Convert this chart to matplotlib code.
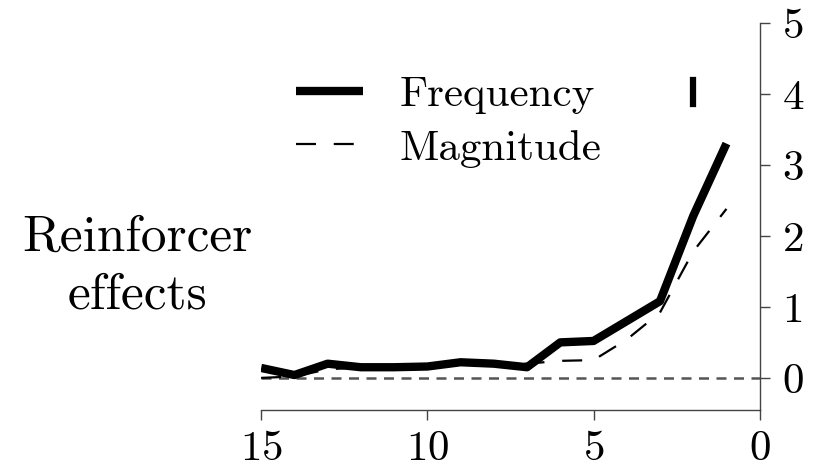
import matplotlib
matplotlib.use("Agg")
import matplotlib.pyplot as plt

plt.rcParams["font.family"] = "cmr10"
plt.rcParams["axes.formatter.use_mathtext"] = True

# data
lags = [15, 14, 13, 12, 11, 10, 9, 8, 7, 6, 5, 4, 3, 2, 1]
frequency = [0.14, 0.04, 0.20, 0.15, 0.15, 0.16, 0.22, 0.20, 0.15, 0.50, 0.52, 0.80, 1.08, 2.28, 3.30]
magnitude = [0.00, 0.02, 0.12, 0.15, 0.15, 0.15, 0.20, 0.20, 0.20, 0.24, 0.25, 0.54, 0.92, 1.78, 2.38]
x_ticks = [15, 10, 5, 0]
y_ticks = [0, 1, 2, 3, 4, 5]
marker_x = 2
marker_y = [3.86, 4.19]

fig = plt.figure(figsize=(8.16, 4.76), dpi=100)
ax = fig.add_axes([0.32, 0.139, 0.611, 0.813])

ax.plot([15, 0], [0, 0], color="#555555", lw=1.8, dashes=(4, 3))
ax.plot(lags, frequency, color="black", lw=6, solid_joinstyle="round",
        solid_capstyle="butt", label="Frequency")
ax.plot(lags, magnitude, color="black", lw=1.6, dashes=(9, 8), label="Magnitude")
ax.plot([marker_x, marker_x], marker_y, color="black", lw=4.5)

ax.set_xlim(15, 0)
ax.set_ylim(-0.45, 5)
ax.set_xticks(x_ticks)
ax.set_yticks(y_ticks)

ax.spines["top"].set_visible(False)
ax.spines["left"].set_visible(False)
ax.yaxis.tick_right()
ax.tick_params(axis="both", direction="out", length=7, width=1, labelsize=31,
               color="#444444")
ax.tick_params(axis="y", pad=9)
ax.tick_params(axis="x", pad=8)
for s in ("bottom", "right"):
    ax.spines[s].set_linewidth(1)
    ax.spines[s].set_color("#444444")

ax.legend(loc="upper left", bbox_to_anchor=(0.01, 0.94), frameon=False,
          fontsize=31, handlelength=1.55, handletextpad=0.85, labelspacing=0.35,
          borderaxespad=0.3)

fig.text(0.168, 0.44, "Reinforcer\neffects", ha="center", va="center",
         fontsize=37, linespacing=1.32)

fig.savefig("out.png", dpi=100)
